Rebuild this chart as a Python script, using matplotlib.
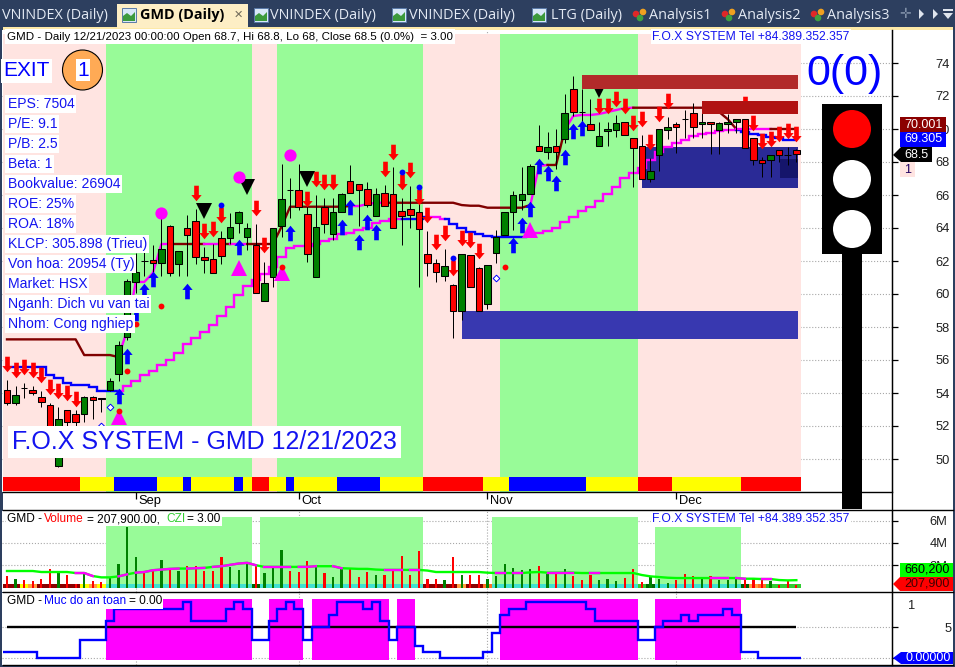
import numpy as np
import matplotlib
matplotlib.use('Agg')
import matplotlib.pyplot as plt
from matplotlib.path import Path
from matplotlib.patches import Rectangle, Circle, Polygon

plt.rcParams['font.family'] = ['Liberation Sans', 'DejaVu Sans']

# candles, one value per bar
open_ = [54.2, 53.4, 54.3, 54.2, 53.75, 53.25, 49.55, 52.95, 52.75, 52.7,
         53.75, 53.7, 54.2, 55.15, 57.4, 60.75, 62.0, 62.05, 61.9, 64.15,
         61.8, 64.0, 64.45, 62.25, 62.1, 63.4, 63.4, 64.3, 63.45, 62.95,
         59.6, 61.05, 64.15, 66.3, 66.3, 64.85, 61.05, 65.25, 63.65, 64.95,
         66.85, 66.65, 66.35, 64.75, 66.15, 66.05, 65.05, 65.15, 64.95, 62.45,
         61.9, 61.1, 60.55, 58.95, 62.35, 61.55, 59.4, 62.5, 63.55, 64.95,
         65.7, 66.05, 68.95, 68.6, 68.95, 69.4, 72.45, 71.05, 70.3, 68.95,
         69.85, 69.95, 70.45, 69.45, 68.95, 66.95, 68.45, 69.95, 70.3, 70.6,
         70.95, 70.3, 70.45, 69.95, 70.3, 70.45, 70.6, 69.45, 68.15, 68.15,
         68.75, 68.45, 68.7]
high = [54.8, 54.4, 54.6, 54.4, 54.1, 53.4, 53.15, 53.0, 52.95, 53.8,
        53.8, 53.7, 54.9, 57.15, 60.9, 62.5, 62.65, 62.95, 64.9, 64.2,
        62.6, 64.8, 65.15, 62.85, 63.05, 63.8, 64.9, 65.05, 64.3, 64.25,
        61.95, 64.0, 67.9, 67.05, 67.9, 65.7, 66.0, 65.8, 65.8, 66.1,
        67.8, 66.65, 66.8, 66.4, 66.6, 67.7, 65.8, 66.55, 66.1, 63.8,
        62.15, 62.7, 60.6, 62.45, 62.35, 61.65, 61.75, 63.9, 64.95, 66.25,
        67.7, 67.9, 70.25, 69.8, 70.0, 72.1, 73.2, 72.4, 71.8, 70.4,
        70.4, 70.85, 70.45, 69.45, 69.65, 68.25, 70.0, 70.75, 70.4, 71.15,
        71.6, 71.15, 70.45, 70.4, 70.9, 70.6, 70.6, 69.45, 68.3, 68.45,
        68.75, 68.9, 68.8]
low = [53.25, 53.25, 53.7, 53.9, 53.15, 50.85, 49.5, 51.9, 52.0, 52.25,
       52.45, 52.85, 54.1, 54.75, 57.2, 60.05, 61.1, 61.25, 61.1, 61.1,
       61.1, 61.1, 61.8, 61.3, 61.25, 61.8, 63.05, 63.7, 62.65, 60.05,
       59.6, 60.4, 63.45, 64.6, 65.1, 61.95, 61.05, 63.7, 63.25, 64.95,
       66.15, 64.1, 65.3, 64.7, 65.35, 64.0, 62.95, 64.0, 60.4, 61.1,
       60.7, 60.8, 57.35, 58.4, 60.45, 58.95, 59.1, 61.9, 63.55, 63.9,
       65.1, 66.05, 68.65, 68.2, 67.6, 69.15, 70.8, 70.45, 69.95, 68.95,
       68.95, 69.5, 69.65, 66.5, 66.95, 66.8, 67.45, 69.4, 68.55, 69.45,
       69.45, 69.45, 68.5, 68.5, 69.75, 69.75, 68.85, 67.8, 67.1, 67.1,
       68.0, 67.8, 68.0]
close = [53.4, 53.9, 54.3, 54.0, 53.45, 51.15, 52.45, 52.25, 52.25, 53.75,
         53.55, 53.65, 54.7, 56.9, 60.8, 61.35, 62.0, 61.9, 62.75, 61.25,
         62.6, 63.55, 62.25, 62.05, 61.25, 62.3, 64.05, 64.95, 64.0, 60.05,
         60.65, 64.0, 65.75, 66.3, 65.25, 62.45, 64.05, 64.25, 64.95, 66.05,
         66.15, 66.3, 65.4, 66.05, 65.35, 64.0, 64.75, 64.8, 63.95, 61.85,
         61.35, 61.7, 58.95, 62.45, 60.45, 58.95, 61.75, 63.45, 64.95, 66.0,
         66.05, 67.75, 68.65, 68.9, 68.6, 70.95, 71.05, 71.05, 69.95, 69.55,
         70.0, 70.35, 69.65, 68.85, 66.95, 67.45, 70.0, 70.15, 70.15, 70.6,
         70.15, 70.45, 70.3, 70.35, 70.45, 70.6, 68.85, 68.15, 67.95, 68.45,
         68.45, 68.45, 68.5]

# stepped support / resistance lines
trail = [55.6, 55.6, 55.6, 55.6, 55.6, 55.09, 54.91, 54.62, 54.48, 54.48,
         54.36, 54.14, 54.14, 54.12, 54.44, 54.75, 55.09, 55.33, 55.7, 56.0,
         56.44, 56.95, 57.33, 57.72, 58.12, 58.67, 59.23, 59.94, 60.48, 60.85,
         61.21, 61.64, 62.26, 62.79, 62.91, 62.93, 63.03, 63.21, 63.33, 63.64,
         63.72, 63.88, 64.02, 64.3, 64.44, 64.55, 64.55, 64.55, 64.55, 64.69,
         64.69, 64.55, 64.26, 64.02, 63.78, 63.66, 63.54, 63.45, 63.45, 63.45,
         63.45, 63.58, 63.7, 63.82, 64.02, 64.36, 64.67, 65.03, 65.29, 65.65,
         66.08, 66.5, 67.05, 67.33, 67.64, 68.12, 68.6, 68.91, 69.15, 69.35,
         69.58, 69.72, 69.78, 69.9, 69.96, 69.94, 69.82, 69.7, 69.62, 69.53,
         69.47, 69.35, 69.305]
resist = [57.25, 57.25, 57.25, 57.25, 57.25, 57.25, 57.25, 57.25, 57.25, 56.3,
          56.3, 56.3, 56.3, 56.18, 57.82, 60.73, 60.73, 61.27, 63.03, 63.03,
          63.03, 63.03, 63.03, 63.03, 63.03, 63.03, 63.03, 63.03, 63.03, 63.03,
          63.03, 63.03, 64.08, 65.29, 65.29, 65.29, 65.29, 65.29, 65.29, 65.29,
          65.33, 65.33, 65.45, 65.53, 65.53, 65.53, 65.53, 65.53, 65.53, 65.53,
          65.53, 65.53, 65.53, 65.39, 65.35, 65.35, 65.23, 65.23, 65.23, 65.23,
          65.23, 65.39, 67.76, 67.82, 67.82, 69.94, 70.79, 70.85, 70.85, 70.91,
          71.03, 71.15, 71.27, 71.29, 71.29, 71.29, 71.29, 71.29, 71.29, 71.29,
          71.29, 71.29, 71.29, 71.03, 70.6, 70.0, 70.0, 70.0, 70.0, 70.0,
          70.0, 70.0, 70.001]
trail_runs = [(0, 13, 'blue'), (13, 46, 'magenta'), (46, 49, 'blue'), (49, 51, 'magenta'),
              (51, 61, 'blue'), (61, 85, 'magenta'), (85, 93, 'blue')]
resist_runs = [(0, 13, 'maroon'), (13, 19, 'magenta'), (19, 23, 'maroon'), (23, 25, 'magenta'),
               (25, 26, 'maroon'), (26, 28, 'magenta'), (28, 40, 'maroon'), (40, 44, 'magenta'),
               (44, 61, 'maroon'), (61, 63, 'magenta'), (63, 65, 'maroon'), (65, 73, 'magenta'),
               (73, 85, 'maroon'), (85, 89, 'magenta'), (89, 93, 'maroon')]

# signals: bar number and price
sell_bars = [0, 1, 2, 3, 4, 5, 6, 7, 8, 22, 23, 24, 25, 29, 30, 35, 36, 37, 38, 44, 45, 46, 47, 48,
             49, 50, 51, 52, 53, 54, 55, 69, 70, 71, 72, 73, 74, 75, 76, 77, 86, 87, 88, 89, 90, 91, 92]
sell_px = [55.76, 55.4, 55.58, 55.4, 55.09, 54.36, 54.12, 54.0, 53.64, 66.12, 63.82, 63.94, 64.79,
           65.21, 62.97, 65.76, 66.97, 66.79, 66.79, 67.58, 68.61, 66.79, 67.52, 65.88,
           64.79, 63.15, 63.7, 61.58, 63.39, 63.27, 62.61, 71.4, 71.4, 71.82, 71.4, 70.36, 70.6,
           69.21, 70.91, 71.7, 71.52, 70.36, 69.27, 69.39, 69.7, 69.88, 69.7]
buy_bars = [13, 14, 15, 16, 17, 21, 27, 33, 39, 40, 41, 42, 43, 59, 60, 61, 62, 63, 64, 65, 66, 67]
buy_px = [53.82, 56.24, 58.85, 60.18, 60.91, 60.18, 62.85, 63.7, 64.06, 65.27, 63.15, 64.37, 63.76,
          62.97, 64.18, 65.15, 67.76, 67.33, 66.73, 68.3, 69.88, 70.06]
diamond_bars = [11, 12, 57]
diamond_px = [52.02, 53.15, 60.97]
red_dot_bars = [13, 14, 15, 18, 32, 58]
red_dot_px = [52.91, 55.33, 58.18, 59.29, 61.65, 61.64]
blue_dot_bars = [25, 46, 48, 52]
blue_dot_px = [65.39, 67.39, 66.48, 62.18]
ball_bars = [18, 27, 33]
ball_px = [64.91, 67.09, 68.42]
black_tri_bars = [23, 28, 35, 69]
black_tri_px = [65.03, 66.48, 66.97, 72.36]
pink_tri_bars = [13, 27, 32, 61]
pink_tri_px = [52.55, 61.58, 61.27, 63.88]

# zones behind the candles
zone_edges = [-0.5, 11.5, 28.5, 31.5, 48.5, 57.5, 73.5, 92.5]
zone_colors = ['#ffe4e1', '#98fb98', '#ffe4e1', '#98fb98', '#ffe4e1', '#98fb98', '#ffe4e1']
strip_edges = [-0.5, 8.5, 12.5, 17.5, 20.5, 21.5, 26.5, 27.5, 28.5, 30.5, 32.5, 33.5, 38.5, 43.5,
               48.5, 55.5, 58.5, 67.5, 73.5, 77.5, 85.5, 92.5]
strip_colors = ['red', 'yellow', 'blue', 'yellow', 'blue', 'yellow', 'blue', 'yellow', 'red', 'yellow',
                'blue', 'yellow', 'blue', 'yellow', 'red', 'yellow', 'blue', 'yellow', 'red', 'yellow', 'red']

# price boxes: first bar, last bar, top, bottom, colour
box_left = [74, 90.1, 53]
box_right = [92.2, 92.2, 92.2]
box_top = [68.9, 68.18, 58.97]
box_bottom = [66.42, 67.03, 57.27]
box_colors = ['#2a2a96', '#15156b', '#3838b0']
red_box_left = [67, 81]
red_box_top = [73.27, 71.7]
red_box_bottom = [72.42, 70.9]
red_box_colors = ['#b22a2a', '#b11212']

price_ticks = [50, 52, 54, 56, 58, 60, 62, 64, 66, 68, 70, 72, 74]
month_bars = [15, 34, 56, 78]
month_names = ['Sep', 'Oct', 'Nov', 'Dec']

# volume pane, millions
volume = [1.0, 0.73, 0.64, 0.55, 0.73, 1.7, 1.3, 1.09, 0.33, 1.18,
          0.55, 0.48, 0.85, 2.09, 5.42, 2.7, 1.3, 1.7, 2.45, 1.76,
          1.45, 1.94, 1.91, 1.45, 1.45, 2.73, 1.85, 1.55, 2.15, 1.94,
          1.3, 1.76, 3.36, 1.45, 1.39, 2.36, 1.97, 1.3, 0.94, 1.7,
          1.73, 0.94, 1.39, 1.09, 1.09, 1.45, 2.82, 1.09, 3.27, 0.73,
          0.73, 0.64, 2.73, 1.09, 1.09, 1.09, 0.73, 1.0, 2.15, 1.79,
          1.61, 1.7, 1.91, 1.24, 1.3, 1.7, 1.0, 0.64, 1.09, 0.64,
          0.79, 0.55, 0.88, 1.7, 0.48, 0.94, 0.73, 0.45, 0.64, 1.18,
          1.0, 0.82, 1.0, 0.64, 0.64, 0.88, 0.64, 0.82, 0.73, 0.55,
          0.27, 0.64, 0.2079]
vol_ma = [1.48, 1.48, 1.48, 1.48, 1.39, 1.39, 1.39, 1.39, 1.3, 1.3,
          1.03, 0.91, 0.91, 1.0, 1.18, 1.33, 1.39, 1.55, 1.61, 1.67,
          1.7, 1.7, 1.73, 1.76, 1.85, 1.91, 2.03, 2.15, 2.21, 2.0,
          1.85, 1.85, 1.85, 1.85, 1.85, 1.85, 1.91, 1.91, 1.91, 1.73,
          1.7, 1.67, 1.67, 1.61, 1.58, 1.58, 1.58, 1.58, 1.58, 1.52,
          1.39, 1.39, 1.39, 1.39, 1.39, 1.39, 1.33, 1.3, 1.3, 1.3,
          1.3, 1.36, 1.39, 1.33, 1.33, 1.33, 1.33, 1.3, 1.3, 1.3,
          1.3, 1.3, 1.3, 1.3, 1.12, 1.0, 0.94, 0.88, 0.85, 0.85,
          0.85, 0.85, 0.85, 0.85, 0.85, 0.85, 0.79, 0.79, 0.76, 0.76,
          0.67, 0.64, 0.6602]
ma_pink_runs = [(8, 10), (13, 14), (15, 20), (21, 23), (24, 29), (30, 33), (34, 36), (38, 39), (44, 46),
                (47, 48), (57, 58), (59, 60), (63, 66), (68, 69), (82, 84), (85, 86), (88, 89)]
vol_zone_left = [11.5, 29.5, 56.5, 75.5]
vol_zone_right = [28.5, 48.5, 73.5, 85.5]
vol_zone_top = [6.33, 6.33, 6.33, 5.45]
vol_strip_edges = [-0.5, 1.5, 2.5, 3.5, 8.5, 9.5, 10.5, 11.5, 28.5, 29.5, 48.5, 52.5, 53.5, 55.5,
                   56.5, 73.5, 74.5, 75.5, 85.5, 86.5, 87.5, 88.5, 92.5]
vol_strip_colors = ['#8b0000', 'yellow', '#ffa040', '#8b0000', 'yellow', '#ffa040', 'yellow', '#40e0d0',
                    '#006400', '#40e0d0', '#8b0000', '#ffa040', '#8b0000', '#ff7020', '#40e0d0',
                    '#32cd32', '#006400', '#40e0d0', '#006400', '#ffa040', '#ff7020', '#32cd32']
vol_ticks = [2, 4, 6]

# safety level pane
safety = [1, 1, 1, 1, 0, 0, 0, 0, 0, 3, 3, 3, 6, 8, 8, 8, 8, 8, 8, 8, 8, 9, 6, 6, 6, 6, 8, 9, 8, 3,
          3, 6, 8, 9, 8, 3, 5, 5, 7, 9, 9, 9, 8, 9, 6, 3, 5, 5, 2, 1, 1, 0, 0, 0, 0, 0, 1, 4, 7, 8,
          8, 9, 9, 9, 9, 9, 9, 9, 8, 6, 6, 6, 6, 6, 3, 3, 5, 6, 6, 7, 6, 7, 7, 7, 8, 7, 1, 1, 0, 0,
          0, 0, 0]
safe_level = 5

info_lines = ['EPS: 7504', 'P/E: 9.1', 'P/B: 2.5', 'Beta: 1', 'Bookvalue: 26904', 'ROE: 25%', 'ROA: 18%',
              'KLCP: 305.898 (Trieu)', 'Von hoa: 20954 (Ty)', 'Market: HSX', 'Nganh: Dich vu van tai',
              'Nhom: Cong nghiep']

bars = np.arange(len(close))
WIDTH, HEIGHT = 955, 667


def pane(top, bottom):
    # axes given by its pixel rows, from x=2 to the price scale at x=892
    a = fig.add_axes([2 / WIDTH, 1 - bottom / HEIGHT, 890 / WIDTH, (bottom - top) / HEIGHT])
    a.set_xlim(-0.583, 103.15)
    a.spines['left'].set_visible(False)
    a.spines['top'].set_visible(False)
    a.spines['bottom'].set_visible(False)
    a.yaxis.tick_right()
    a.tick_params(axis='y', length=4, width=0.9, pad=27, labelsize=9.3, labelcolor='#202020')
    a.set_axisbelow(True)
    a.grid(True, linestyle=':', color='#a8a8a8', linewidth=0.8)
    a.set_xticks(month_bars)
    a.tick_params(axis='x', length=0, labelbottom=False)
    return a


fig = plt.figure(figsize=(WIDTH / 100, HEIGHT / 100), dpi=100, facecolor='#2d3f5f')

# white window behind the panes
fig.add_artist(Rectangle((3 / WIDTH, 1 - 665 / HEIGHT), 950 / WIDTH, 635 / HEIGHT, color='white', lw=0,
                         transform=fig.transFigure, zorder=-1))

# ---- price pane ----
ax = pane(30, 492)
ax.set_ylim(48, 76)
ax.set_yticks(price_ticks)
ax.tick_params(axis='x', length=5, width=0.9, direction='out')
for i in range(len(zone_colors)):
    ax.fill_between(zone_edges[i:i + 2], 48, 75.75, color=zone_colors[i], lw=0, zorder=1)
for i in range(len(strip_colors)):
    ax.fill_between(strip_edges[i:i + 2], 48.05, 48.91, color=strip_colors[i], lw=0, zorder=1.5)
for m, name in zip(month_bars, month_names):
    ax.annotate(name, xy=(m, 48), xytext=(3, -3), textcoords='offset pixels', ha='left', va='top',
                fontsize=9.3, annotation_clip=False)

ax.bar(box_left, np.array(box_top) - np.array(box_bottom), bottom=box_bottom,
       width=np.array(box_right) - np.array(box_left), align='edge', color=box_colors, lw=0, zorder=2)

for a, b, c in trail_runs:
    ax.plot(bars[a:b + 1], trail[a:b + 1], color=c, lw=1.7, drawstyle='steps-mid', zorder=3, solid_joinstyle='miter')
for a, b, c in resist_runs:
    ax.plot(bars[a:b + 1], resist[a:b + 1], color=c, lw=1.7, zorder=3)

candle_colors = ['#008000' if c > o else 'red' for o, c in zip(open_, close)]
ax.vlines(bars, low, high, color='black', lw=0.72, zorder=4)
ax.bar(bars, np.abs(np.array(close) - np.array(open_)), bottom=np.minimum(open_, close), width=0.76,
       color=candle_colors, edgecolor='black', linewidth=0.75, zorder=5)

# block arrows
down_arrow = Path([(-0.3, 1), (0.3, 1), (0.3, -0.2), (0.66, -0.2), (0, -1), (-0.66, -0.2), (-0.3, -0.2), (-0.3, 1)],
                  closed=True)
up_arrow = Path([(-0.3, -1), (0.3, -1), (0.3, 0.2), (0.66, 0.2), (0, 1), (-0.66, 0.2), (-0.3, 0.2), (-0.3, -1)],
                closed=True)
ax.plot(sell_bars, sell_px, ls='none', marker=down_arrow, ms=11.2, color='red', mew=0, zorder=6)
ax.plot(buy_bars, buy_px, ls='none', marker=up_arrow, ms=11.2, color='blue', mew=0, zorder=6)
ax.plot(pink_tri_bars, pink_tri_px, ls='none', marker='^', ms=11.5, color='magenta', mew=0, zorder=6)
ax.plot(black_tri_bars, black_tri_px, ls='none', marker='v', ms=11.5, color='black', mew=0, zorder=6)
ax.plot(ball_bars, ball_px, ls='none', marker='o', ms=8.8, color='magenta', mew=0, zorder=6)
ax.plot(red_dot_bars, red_dot_px, ls='none', marker='o', ms=4.2, color='red', mew=0, zorder=7)
ax.plot(blue_dot_bars, blue_dot_px, ls='none', marker='o', ms=4.2, color='blue', mew=0, zorder=7)
ax.plot(diamond_bars, diamond_px, ls='none', marker='D', ms=3.4, mfc='white', mec='blue', mew=0.7, zorder=7)

ax.bar(red_box_left, np.array(red_box_top) - np.array(red_box_bottom), bottom=red_box_bottom,
       width=92.2 - np.array(red_box_left), align='edge', color=red_box_colors, lw=0, zorder=8)

# ---- volume pane ----
ax2 = pane(510.5, 592)
ax2.set_ylim(-0.4, 6.9)
ax2.set_yticks(vol_ticks)
ax2.set_yticklabels(['%dM' % v for v in vol_ticks])
ax2.tick_params(axis='y', pad=23)
ax2.bar(vol_zone_left, vol_zone_top, width=np.array(vol_zone_right) - np.array(vol_zone_left), align='edge',
        color='#98fb98', lw=0, zorder=1)
for i in range(len(vol_strip_colors)):
    ax2.fill_between(vol_strip_edges[i:i + 2], 0, 0.28, color=vol_strip_colors[i], lw=0, zorder=2)
ax2.bar(bars, volume, width=0.26, color=candle_colors, lw=0, zorder=3)
ax2.plot(bars, vol_ma, color='#00ff00', lw=1.7, zorder=4)
for a, b in ma_pink_runs:
    ax2.plot(bars[a:b + 1], vol_ma[a:b + 1], color='magenta', lw=1.7, zorder=4.5)

# ---- safety pane ----
ax3 = pane(592.5, 665)
ax3.set_ylim(-1.1, 10.6)
ax3.set_yticks([0, 5])
ax3.set_yticklabels(['', '5'])
ax3.tick_params(axis='y', pad=34)
safe = np.array(safety)
ax3.bar(bars[safe >= safe_level], 9.8, bottom=-0.3, width=1.0, color='magenta', lw=0, zorder=1)
ax3.hlines(safe_level, 0, 92, color='black', lw=1.7, zorder=2)
ax3.stairs(safety, np.arange(len(safety) + 1) - 0.5, baseline=None, color='blue', lw=1.7, zorder=3)

# ---- everything drawn in window pixels goes on top ----
top = fig.add_axes([0, 0, 1, 1], zorder=20)
top.set_xlim(0, WIDTH)
top.set_ylim(HEIGHT, 0)
top.axis('off')
top.patch.set_visible(False)
BLUE = '#1414f0'


def box_text(x, y, s, size, color=BLUE, pad=1.5, **kw):
    top.text(x, y, s, fontsize=size, color=color, va='center', ha=kw.pop('ha', 'left'),
             bbox=dict(facecolor='white', edgecolor='none', pad=pad), zorder=5, **kw)


# tab strip
top.add_patch(Rectangle((0, 0), WIDTH, 27, color='#2d3f5f', lw=0))
top.add_patch(Rectangle((3, 27), 950, 3, color='#fde9a8', lw=0))
top.add_patch(Rectangle((117, 4), 131, 24, color='#fdeec5', lw=0))
tab_font = ['Open Sans', 'DejaVu Sans']
tab_names = ['VNINDEX (Daily)', 'VNINDEX (Daily)', 'VNINDEX (Daily)', 'LTG (Daily)',
             'Analysis1', 'Analysis2', 'Analysis3']
tab_x = [2, 270, 409, 551, 649, 738, 827]
for x, name in zip(tab_x, tab_names):
    top.text(x, 15.5, name, color='#e4eaf4', fontsize=10.4, family=tab_font, va='center')
top.text(140, 15.5, 'GMD (Daily)', color='black', fontsize=10.4, family=tab_font, weight='bold', va='center')
top.text(238, 15, '\u2715', color='#706a5a', fontsize=8, family='DejaVu Sans', ha='center', va='center')
for x in [122, 254, 392, 532]:
    top.add_patch(Rectangle((x, 8), 14, 14, facecolor='#d8e8f8', edgecolor='#5a7aa8', lw=0.7))
    top.add_patch(Polygon([(x + 1, 21), (x + 1, 16), (x + 5, 13), (x + 9, 16), (x + 13, 12), (x + 13, 21)],
                          color='#3c9a3c', lw=0))
for x in [632, 721, 810]:
    top.add_patch(Circle((x + 4, 14), 3.3, color='#e02828', lw=0))
    top.add_patch(Circle((x + 11, 12), 3.3, color='#f0a020', lw=0))
    top.add_patch(Circle((x + 8, 18), 3.3, color='#40a040', lw=0))
top.text(905, 14.5, '\u271b', color='#8090a8', fontsize=10, family='DejaVu Sans', ha='center', va='center')
top.add_patch(Polygon([(924, 14), (919, 9), (919, 19)][::1], color='#dfe5ee', lw=0))
top.add_patch(Polygon([(933, 9), (938, 14), (933, 19)], color='#dfe5ee', lw=0))
top.add_patch(Polygon([(943, 13), (953, 13), (948, 19)], color='#dfe5ee', lw=0))
top.add_patch(Rectangle((943, 9), 10, 2, color='#dfe5ee', lw=0))

# pane dividers and the price scale line
for y, right in [(492, 892), (510, 953), (592, 953), (665, 953)]:
    top.plot([3, right], [y, y], color='black', lw=1.0)
top.plot([892, 892], [30, 665], color='black', lw=1.0)

# header and labels
box_text(7, 36.5, 'GMD - Daily 12/21/2023 00:00:00 Open 68.7, Hi 68.8, Lo 68, Close 68.5 (0.0%)  = 3.00', 8.25,
         color='black', pad=1.5)
box_text(652, 36.5, 'F.O.X SYSTEM Tel +84.389.352.357', 8.72, pad=1)
box_text(3.5, 71, 'EXIT', 15, color='blue', pad=1.5)
top.add_patch(Circle((82.5, 70), 20, facecolor='#ffaa55', edgecolor='black', lw=0.8))
box_text(83, 70, '1', 15, color='blue', ha='center', pad=1)
for i, line in enumerate(info_lines):
    box_text(7.5, 104 + 20 * i, line, 10.1, pad=1.6)
box_text(12, 442, 'F.O.X SYSTEM - GMD 12/21/2023', 18, pad=3)

# traffic light
top.text(844.5, 74, '0(0)', fontsize=31, color='blue', ha='center', va='center')
top.add_patch(Rectangle((822, 104), 60, 150, color='black', lw=0))
top.add_patch(Rectangle((842, 254), 20, 255, color='black', lw=0))
top.add_patch(Circle((852, 129), 19, color='red', lw=0))
top.add_patch(Circle((852, 179), 19, color='white', lw=0))
top.add_patch(Circle((852, 229), 19, color='white', lw=0))

# last value tags on the price scale
for y0, y1, fc, s, tc in [(117, 132, '#8b0000', '70.001', 'white'), (132, 147, 'blue', '69.305', 'white')]:
    top.add_patch(Rectangle((900, y0), 46, y1 - y0, color=fc, lw=0, zorder=3))
    top.text(904, (y0 + y1) / 2, s, color=tc, fontsize=9, va='center', zorder=4)
top.add_patch(Polygon([(893, 155), (901, 147), (932, 147), (932, 162), (901, 162)], color='black', lw=0, zorder=3))
top.text(904, 155, '68.5', color='white', fontsize=9, va='center', zorder=4)
top.add_patch(Rectangle((900, 162), 15, 15, color='#ffe4e1', lw=0, zorder=3))
top.text(904, 170, '1', color='#200060', fontsize=9, va='center', zorder=4)

# volume pane title
top.add_patch(Rectangle((6, 512), 216, 14, color='white', lw=0))
for x, s, c in [(7, 'GMD - ', 'black'), (43.5, 'Volume', 'red'), (87, '= 207,900.00,', 'black'),
                (166.5, 'CZI', '#32cd32'), (187, '= 3.00', 'black')]:
    top.text(x, 519.5, s, color=c, fontsize=8.6, va='center')
box_text(652, 519.5, 'F.O.X SYSTEM Tel +84.389.352.357', 8.72, pad=1)
top.add_patch(Rectangle((900, 563), 53, 14, color='#00ff00', lw=0, zorder=3))
top.text(904, 570, '660,200', color='black', fontsize=9, va='center', zorder=4)
top.add_patch(Polygon([(893, 584), (900, 577), (953, 577), (953, 591), (900, 591)], color='red', lw=0, zorder=3))
top.text(904, 584, '207,900', color='#400000', fontsize=9, va='center', zorder=4)

# safety pane title
top.add_patch(Rectangle((6, 594), 157, 15, color='white', lw=0))
for x, s, c in [(7, 'GMD - ', 'black'), (43.5, 'Muc do an toan', 'blue'), (129, '= 0.00', 'black')]:
    top.text(x, 601.5, s, color=c, fontsize=8.6, va='center')
top.text(908, 606, '1', color='#202020', fontsize=9.3, va='center')
top.add_patch(Polygon([(893, 658), (901, 652), (953, 652), (953, 664), (901, 664)], color='blue', lw=0, zorder=3))
top.text(905, 658, '0.00000', color='white', fontsize=9, va='center', zorder=4)

fig.savefig('out.png', dpi=100, facecolor=fig.get_facecolor())
